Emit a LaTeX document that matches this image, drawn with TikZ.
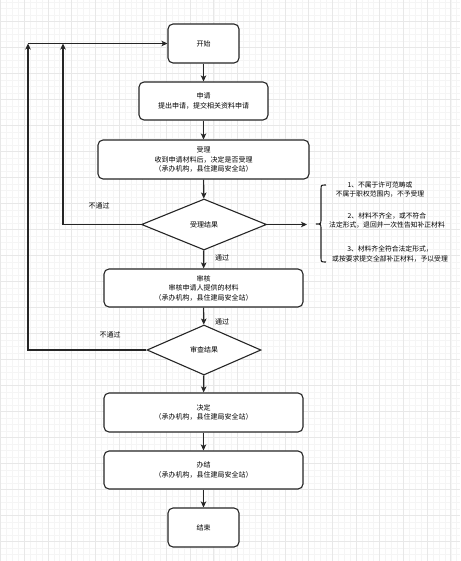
\documentclass[tikz,border=0pt]{standalone}
\usepackage{fontspec}
\newfontfamily\cjk{Noto Sans CJK SC}
\usetikzlibrary{shapes.geometric,arrows.meta}
\begin{document}
\begin{tikzpicture}[x=1pt,y=-1pt,
  box/.style={draw=black!85, line width=1.1pt, rounded corners=5pt, fill=white,
    font=\cjk\fontsize{7}{9.5}\selectfont, align=center, inner sep=0pt},
  dia/.style={diamond, draw=black!85, line width=1.1pt, fill=white,
    font=\cjk\fontsize{7}{9.5}\selectfont, inner sep=0pt},
  arr/.style={-{Stealth[length=6pt,width=5.5pt,inset=1.5pt]}, line width=1.1pt, draw=black!85},
  ln/.style={line width=1.1pt, draw=black!85},
  lbl/.style={font=\cjk\fontsize{7}{9}\selectfont, inner sep=0pt},
  note/.style={font=\cjk\fontsize{6.8}{9.5}\selectfont, align=center, inner sep=0pt},
  minorgrid/.style={draw=black!4, line width=0.4pt},
  majorgrid/.style={draw=black!9, line width=0.5pt}]
\path[use as bounding box, fill=white] (0,0) rectangle (460,561);
% grid
\foreach \i in {-1,...,78} {
  \pgfmathsetmacro\xx{0.4+\i*5.925}
  \draw[minorgrid] (\xx,0) -- (\xx,561);
}
\foreach \i in {-4,...,83} {
  \pgfmathsetmacro\yy{21.3+\i*6.5}
  \draw[minorgrid] (0,\yy) -- (460,\yy);
}
\foreach \i in {0,...,19} {
  \pgfmathsetmacro\xx{0.4+\i*23.7}
  \draw[majorgrid] (\xx,0) -- (\xx,561);
}
\foreach \i in {-1,...,21} {
  \pgfmathsetmacro\yy{21.3+\i*26}
  \draw[majorgrid] (0,\yy) -- (460,\yy);
}
% nodes
\node[box, minimum width=71pt, minimum height=39pt] (start) at (203.5,43.5) {开始};
\node[box, minimum width=129pt, minimum height=38pt] (apply) at (203.5,101) {申请\\提出申请，提交相关资料申请};
\node[box, minimum width=211pt, minimum height=39pt] (accept) at (203.5,159.5) {受理\\收到申请材料后，决定是否受理\\（承办机构，县住建局安全站）};
\node[dia, minimum width=125pt, minimum height=51pt] (d1) at (204,224.5) {受理结果};
\node[box, minimum width=199pt, minimum height=38pt] (review) at (203.5,288) {审核\\审核申请人提供的材料\\（承办机构，县住建局安全站）};
\node[dia, minimum width=114pt, minimum height=50pt] (d2) at (204,350) {审查结果};
\node[box, minimum width=199pt, minimum height=39pt] (decide) at (203.5,412.5) {决定\\（承办机构，县住建局安全站）};
\node[box, minimum width=199pt, minimum height=38pt] (finish) at (203.5,470) {办结\\（承办机构，县住建局安全站）};
\node[box, minimum width=71pt, minimum height=39pt] (stop) at (203.5,527.5) {结束};
% coordinates
\coordinate (c1) at (63,43.5);
\coordinate (c2) at (28,43.5);
\coordinate (c3) at (307,224.5);
% connectors
\draw[arr] (start) -- (apply);
\draw[arr] (apply) -- (accept);
\draw[arr] (accept) -- (d1);
\draw[arr] (d1) -- (review);
\draw[arr] (review) -- (d2);
\draw[arr] (d2) -- (decide);
\draw[arr] (decide) -- (finish);
\draw[arr] (finish) -- (stop);
\draw[arr] (d1.west) -| (c1);
\draw[arr] (d2.west) -| (c2);
\draw[arr] (c2) -- (start.west);
\draw[arr] (d1.east) -- (c3);
% labels
\node[lbl] (l1) at (99,206) {不通过};
\node[lbl] (l2) at (222,258) {通过};
\node[lbl] (l3) at (222,322) {通过};
\node[lbl] (l4) at (110,335) {不通过};
% brace
\draw[ln] (326,185) .. controls (321,185) .. (321,190) -- (321,218.5)
  .. controls (321,224) .. (316,224) .. controls (321,224) .. (321,229.5)
  -- (321,257) .. controls (321,262) .. (326,262);
\node[note] (n1) at (380,189.5) {1、不属于许可范畴或\\不属于职权范围内，不予受理};
\node[note] (n2) at (387,220.5) {2、材料不齐全，或不符合\\法定形式，退回并一次性告知补正材料};
\node[note] (n3) at (390,254) {3、材料齐全符合法定形式，\\或按要求提交全部补正材料，予以受理};
\end{tikzpicture}
\end{document}
